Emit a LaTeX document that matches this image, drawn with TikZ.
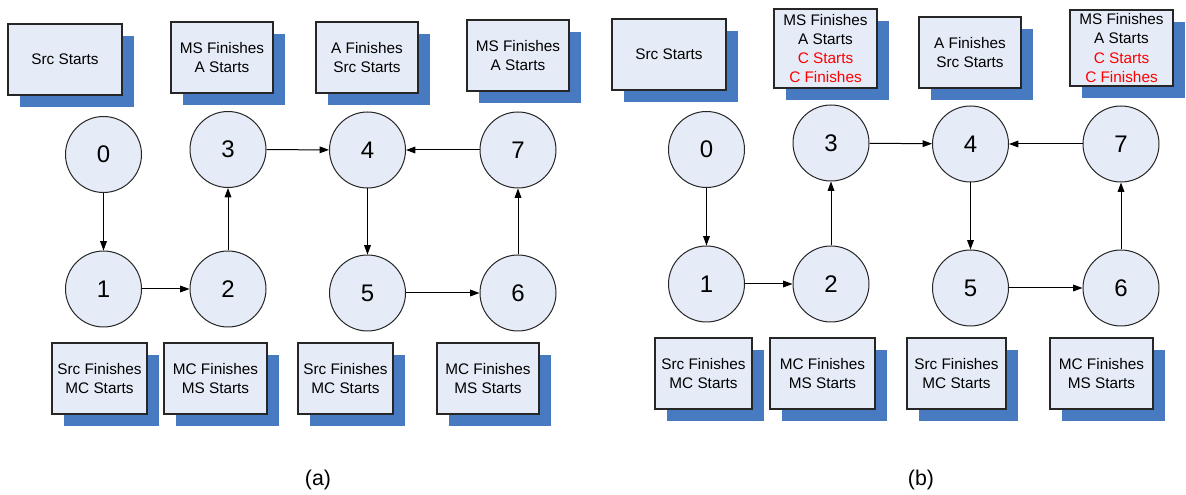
\documentclass[tikz,border=0pt]{standalone}
\usepackage{fontspec}
\setmainfont{Liberation Sans}
\usetikzlibrary{arrows.meta,shadows}
\definecolor{shblue}{RGB}{72,122,194}
\definecolor{boxfill}{RGB}{230,236,247}
\definecolor{redtxt}{RGB}{255,0,0}
\tikzset{
  evbox/.style 2 args={draw=black!85, line width=0.8pt, fill=boxfill, rectangle, align=center,
    inner sep=1pt, minimum width=#1*0.75pt, minimum height=#2*0.75pt,
    font=\fontsize{11.5}{14.3}\selectfont,
    general shadow={fill=shblue, shadow xshift=9pt, shadow yshift=-9pt}},
  stnode/.style={circle, draw=black!85, line width=0.75pt, fill=boxfill, minimum size=57pt,
    inner sep=0pt, font=\fontsize{18}{18}\selectfont},
  conn/.style={line width=0.75pt, -{Triangle[length=7pt,width=5pt]}},
  captxt/.style={font=\fontsize{16}{16}\selectfont}
}
\begin{document}
\begin{tikzpicture}[x=0.75pt,y=-0.75pt]
\useasboundingbox (0,0) rectangle (1186,495);
% ---------- panel (a) ----------
\node[evbox={114}{71}] (a0b) at (65,59.5) {Src Starts};
\node[evbox={102}{71}] (a3b) at (222,57.5) {MS Finishes\\A Starts};
\node[evbox={102}{71}] (a4b) at (367,57.5) {A Finishes\\Src Starts};
\node[evbox={102}{71}] (a7b) at (518,55.5) {MS Finishes\\A Starts};
\node[evbox={95}{71}] (a1b) at (99.5,378.5) {Src Finishes\\MC Starts};
\node[evbox={103}{71}] (a2b) at (215.5,378.5) {MC Finishes\\MS Starts};
\node[evbox={95}{71}] (a5b) at (345.5,378.5) {Src Finishes\\MC Starts};
\node[evbox={102}{71}] (a6b) at (488,378.5) {MC Finishes\\MS Starts};

\node[stnode] (a0) at (103.5,154.5) {0};
\node[stnode] (a3) at (228,149.5) {3};
\node[stnode] (a4) at (367.5,150) {4};
\node[stnode] (a7) at (518,150) {7};
\node[stnode] (a1) at (103.5,289) {1};
\node[stnode] (a2) at (228,289) {2};
\node[stnode] (a5) at (367.5,293) {5};
\node[stnode] (a6) at (518,293) {6};

\draw[conn] (a0) -- (a1);
\draw[conn] (a1) -- (a2);
\draw[conn] (a2) -- (a3);
\draw[conn] (a3) -- (a4);
\draw[conn] (a7) -- (a4);
\draw[conn] (a4) -- (a5);
\draw[conn] (a5) -- (a6);
\draw[conn] (a6) -- (a7);

\node[captxt] (capa) at (318,480) {(a)};

% ---------- panel (b) ----------
\node[evbox={114}{71}] (b0b) at (669,54.5) {Src Starts};
\node[evbox={103}{79}] (b3b) at (825.5,48.5) {MS Finishes\\A Starts\\\textcolor{redtxt}{C Starts}\\\textcolor{redtxt}{C Finishes}};
\node[evbox={102}{71}] (b4b) at (970,52.5) {A Finishes\\Src Starts};
\node[evbox={103}{76}] (b7b) at (1121.5,48) {MS Finishes\\A Starts\\\textcolor{redtxt}{C Starts}\\\textcolor{redtxt}{C Finishes}};
\node[evbox={97}{71}] (b1b) at (703.5,373.5) {Src Finishes\\MC Starts};
\node[evbox={105}{71}] (b2b) at (822.5,373.5) {MC Finishes\\MS Starts};
\node[evbox={99}{71}] (b5b) at (956.5,373.5) {Src Finishes\\MC Starts};
\node[evbox={103}{71}] (b6b) at (1101.5,373.5) {MC Finishes\\MS Starts};

\node[stnode] (b0) at (706.5,149.5) {0};
\node[stnode] (b3) at (831,143) {3};
\node[stnode] (b4) at (970.5,144) {4};
\node[stnode] (b7) at (1121,144) {7};
\node[stnode] (b1) at (706.5,284) {1};
\node[stnode] (b2) at (831,284) {2};
\node[stnode] (b5) at (970.5,288) {5};
\node[stnode] (b6) at (1121,288) {6};

\draw[conn] (b0) -- (b1);
\draw[conn] (b1) -- (b2);
\draw[conn] (b2) -- (b3);
\draw[conn] (b3) -- (b4);
\draw[conn] (b7) -- (b4);
\draw[conn] (b4) -- (b5);
\draw[conn] (b5) -- (b6);
\draw[conn] (b6) -- (b7);

\node[captxt] (capb) at (921,480) {(b)};
\end{tikzpicture}
\end{document}
